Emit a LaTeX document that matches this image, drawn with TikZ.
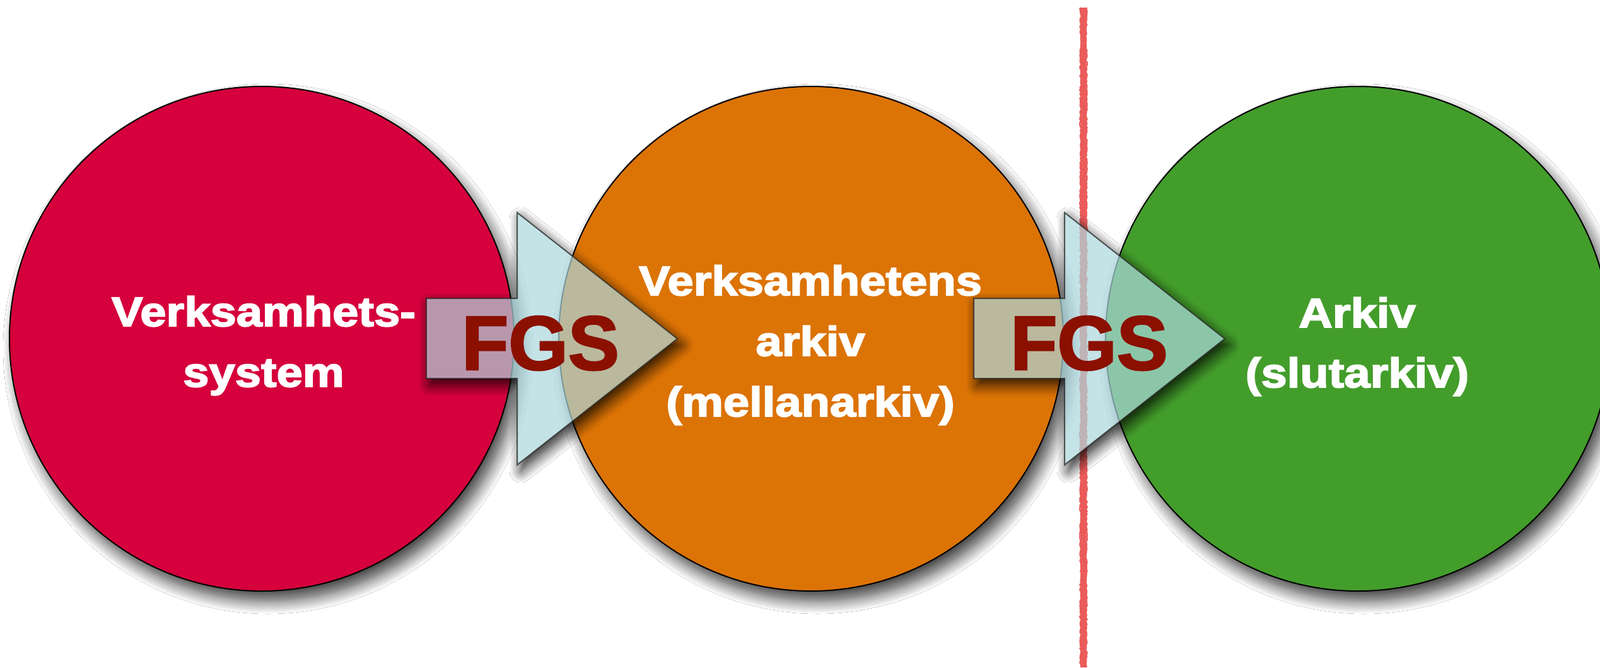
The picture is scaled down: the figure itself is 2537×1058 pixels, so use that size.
\documentclass[tikz,border=0pt]{standalone}
\usepackage{fontspec}
\setmainfont{Liberation Sans}
\newfontfamily\labfont[FakeStretch=1.13,FakeBold=3]{Liberation Sans}
\newfontfamily\fgsfont[FakeBold=2.2]{Liberation Sans}
\usetikzlibrary{shadows.blur,decorations.pathmorphing}
\definecolor{cred}{RGB}{213,0,60}
\definecolor{corange}{RGB}{220,115,5}
\definecolor{cgreen}{RGB}{67,157,43}
\definecolor{arrowfill}{RGB}{172,216,222}
\definecolor{arrowline}{RGB}{40,40,40}
\definecolor{fgsred}{RGB}{139,16,0}
\definecolor{redline}{RGB}{234,92,90}
\begin{document}
\begin{tikzpicture}[x=1pt,y=-1pt,
  circ/.style={circle,draw=black,line width=2pt,minimum size=800pt,inner sep=0pt,
    blur shadow={shadow xshift=10pt,shadow yshift=-16pt,shadow blur radius=20pt,shadow opacity=75,shadow blur steps=14}},
  lab/.style={anchor=base,inner sep=0pt,text=white,font=\labfont\bfseries\fontsize{65.6}{70}\selectfont},
  fgs/.style={anchor=base,inner sep=0pt,text=fgsred,font=\fgsfont\bfseries\fontsize{121.5}{130}\selectfont},
  arrowbody/.style={fill=arrowfill,fill opacity=0.7,draw=arrowline,draw opacity=0.75,line width=2pt,line join=miter},
  arrowshadow/.style={blur shadow={shadow xshift=6pt,shadow yshift=-10pt,shadow blur radius=18pt,shadow opacity=85,shadow blur steps=12}},
]
\useasboundingbox (0,0) rectangle (2537,1058);
\fill[white] (0,0) rectangle (2537,1058);

% circles
\node[circ,fill=cred] (c1) at (415,537) {};
\node[circ,fill=corange] (c2) at (1286,537) {};
\node[circ,fill=cgreen] (c3) at (2153,537) {};

% red boundary line
\coordinate (lt) at (1718,12);
\coordinate (lb) at (1718,1058);
\draw[line width=8pt,redline] (lt) -- (lb);
\draw[line width=2.5pt,redline,decorate,decoration={random steps,segment length=3pt,amplitude=1.2pt}]
  ([xshift=-4.5pt]lt) -- ([xshift=-4.5pt]lb);
\draw[line width=2.5pt,redline,decorate,decoration={random steps,segment length=3pt,amplitude=1.2pt}]
  ([xshift=4.5pt]lt) -- ([xshift=4.5pt]lb);

% arrow shadows (outside the arrows only)
\begin{scope}
\clip (-200,-200) -- (2800,-200) -- (2800,1300) -- (-200,1300) -- cycle
  (676,473) -- (676,600) -- (820,600) -- (820,737) -- (1074,537) -- (820,337) -- (820,473) -- cycle
  (1544,473) -- (1544,600) -- (1688,600) -- (1688,737) -- (1942,537) -- (1688,337) -- (1688,473) -- cycle;
\path[arrowshadow] (676,473) -- (820,473) -- (820,337) -- (1074,537) -- (820,737) -- (820,600) -- (676,600) -- cycle;
\path[arrowshadow] (1544,473) -- (1688,473) -- (1688,337) -- (1942,537) -- (1688,737) -- (1688,600) -- (1544,600) -- cycle;
\end{scope}

% arrows
\path[arrowbody] (676,473) -- (820,473) -- (820,337) -- (1074,537) -- (820,737) -- (820,600) -- (676,600) -- cycle;
\path[arrowbody] (1544,473) -- (1688,473) -- (1688,337) -- (1942,537) -- (1688,737) -- (1688,600) -- (1544,600) -- cycle;

% labels
\node[lab] (c1a) at (418,517) {Verksamhets-};
\node[lab] (c1b) at (418,613) {system};
\node[lab] (c2a) at (1285,468) {Verksamhetens};
\node[lab] (c2b) at (1285,564) {arkiv};
\node[lab] (c2c) at (1285,660) {(mellanarkiv)};
\node[lab] (c3a) at (2152,519) {Arkiv};
\node[lab] (c3b) at (2152,614) {(slutarkiv)};

\node[fgs] (f1) at (857,586) {FGS};
\node[fgs] (f2) at (1727,586) {FGS};
\end{tikzpicture}
\end{document}
